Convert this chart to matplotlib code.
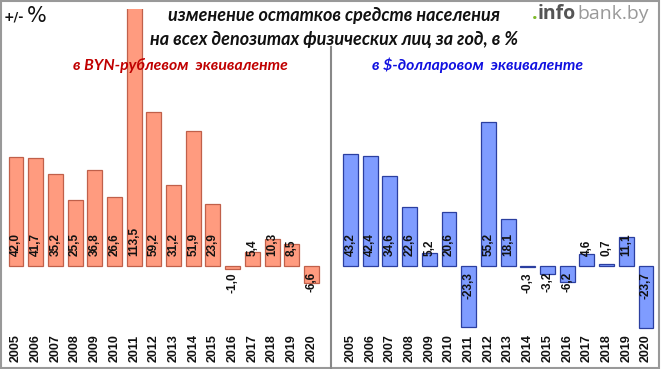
import matplotlib
matplotlib.use("Agg")
import matplotlib.pyplot as plt
from matplotlib.patches import Rectangle
from matplotlib.lines import Line2D
import matplotlib.transforms as mtransforms

years = list(range(2005, 2021))
byn_change = [42.0, 41.7, 35.2, 25.5, 36.8, 26.6, 113.5, 59.2, 31.2, 51.9,
              23.9, -1.0, 5.4, 10.3, 8.5, -6.6]
usd_change = [43.2, 42.4, 34.6, 22.6, 5.2, 20.6, -23.3, 55.2, 18.1, -0.3,
              -3.2, -6.2, 4.6, 0.7, 11.1, -23.7]

title_lines = ["изменение остатков средств населения",
               "на всех депозитах физических лиц за год, в %"]
subtitle_byn = "в BYN-рублевом  эквиваленте"
subtitle_usd = "в $-долларовом  эквиваленте"

W, H = 662, 369
NARROW = ["Liberation Sans Narrow", "Liberation Sans", "DejaVu Sans"]
TITLE_FONT = ["Lato", "DejaVu Sans"]


def px(x, y):
  # pixel coords (from top-left) -> figure fraction
  return x / W, 1 - y / H


def draw_panel(fig, left_px, right_px, xmin, xmax, values, face, edge):
  x0, _ = px(left_px, 0)
  x1, _ = px(right_px, 0)
  ax = fig.add_axes([x0, 2 / H, x1 - x0, (367 - 9) / H])
  idx = list(range(len(values)))
  ax.bar(idx, values, width=0.76, color=face, edgecolor=edge, linewidth=0.9)
  ax.set_xlim(xmin, xmax)
  ax.set_ylim(-38.8, 98.8)
  ax.axis("off")

  blend = mtransforms.blended_transform_factory(ax.transData, ax.transAxes)
  for i, v in enumerate(values):
    label = f"{v:.1f}".replace(".", ",")
    if v >= 0:
      ax.annotate(label, xy=(i, 0), xytext=(0, 10), textcoords="offset pixels",
                  rotation=90, ha="center", va="bottom", fontsize=8.5,
                  family=NARROW, fontweight="bold", color="#111111")
    else:
      ax.annotate(label, xy=(i, 0), xytext=(0, -6), textcoords="offset pixels",
                  rotation=90, ha="center", va="top", fontsize=8.5,
                  family=NARROW, fontweight="bold", color="#111111")
    ax.annotate(str(years[i]), xy=(i, 0), xycoords=blend, xytext=(0, 5),
                textcoords="offset pixels", rotation=90, ha="center",
                va="bottom", fontsize=9, family=NARROW, fontweight="bold",
                color="#111111")
  return ax


fig = plt.figure(figsize=(W / 100, H / 100), dpi=100)
fig.patch.set_facecolor("white")

draw_panel(fig, 2, 330, -0.71, 15.94, byn_change, "#FF9B7F", "#C0604A")
draw_panel(fig, 331, 659, -0.99, 15.66, usd_change, "#7F9CFF", "#2B3FA0")

# titles
fig.text(*px(334, 16), title_lines[0], ha="center", va="center", fontsize=13,
         style="italic", fontweight="bold", family=TITLE_FONT, color="#111111")
fig.text(*px(334, 40), title_lines[1], ha="center", va="center", fontsize=13,
         style="italic", fontweight="bold", family=TITLE_FONT, color="#111111")
fig.text(*px(180, 65), subtitle_byn, ha="center", va="center", fontsize=11.3,
         style="italic", fontweight="bold", family=TITLE_FONT, color="#C00000")
fig.text(*px(478, 65), subtitle_usd, ha="center", va="center", fontsize=11.3,
         style="italic", fontweight="bold", family=TITLE_FONT, color="#1010E0")

# +/- %
fig.text(*px(4, 21), "+/-", ha="left", va="baseline", fontsize=9,
         fontweight="bold", family="DejaVu Sans", color="#111111")
fig.text(*px(27, 22), "%", ha="left", va="baseline", fontsize=15,
         family="DejaVu Sans", color="#111111")

# logo
fig.text(*px(532, 19), ".", ha="left", va="baseline", fontsize=14,
         fontweight="bold", family="Open Sans", color="#7DB928")
fig.text(*px(538, 19), "info", ha="left", va="baseline", fontsize=14,
         fontweight="bold", family="Open Sans", color="#555555")
fig.text(*px(577, 19), "bank.by", ha="left", va="baseline", fontsize=14,
         family="Open Sans", color="#999999")

# separator and border
fig.add_artist(Line2D([331 / W, 331 / W], [1 - 47 / H, 1 - 368 / H],
                      transform=fig.transFigure, color="#888888", lw=1.5))
fig.add_artist(Rectangle((1 / W, 1 / H), 658 / W, (H - 2) / H,
                         transform=fig.transFigure, fill=False,
                         edgecolor="#999999", lw=1.5))

fig.savefig("out.png", dpi=100)
